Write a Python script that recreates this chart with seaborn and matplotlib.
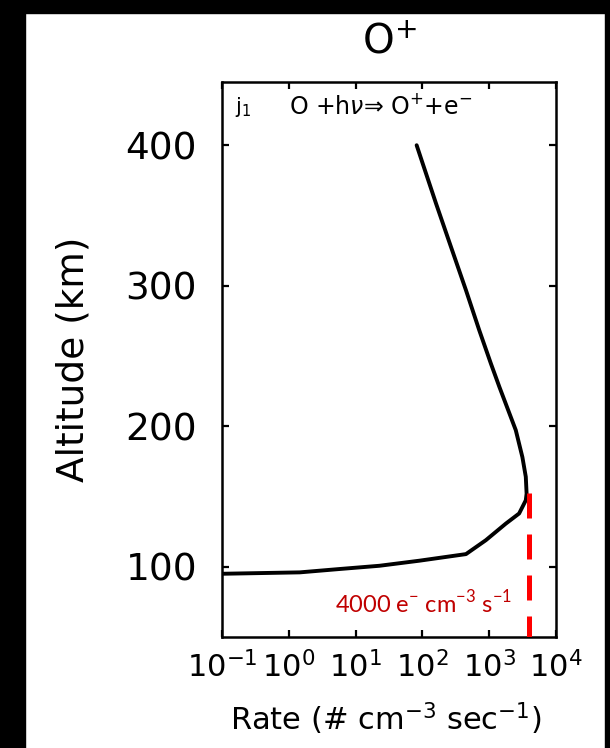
import matplotlib
matplotlib.use("Agg")
import matplotlib.pyplot as plt
from matplotlib.patches import Rectangle
from matplotlib.ticker import LogLocator, NullFormatter
import seaborn as sns
import pandas as pd

# O+ photoionisation rate profile (j1: O + hv -> O+ + e-)
rate = [0.1, 1.46, 5.8, 22.8, 90, 449, 891, 1774, 2805, 3530, 3630,
        3530, 3140, 2500, 1420, 1060, 710, 449, 268, 160, 101, 82]
altitude = [95, 96, 98.4, 100.7, 104.3, 109, 118.9, 130.7, 137.9, 147.3, 152,
            164, 178, 197.2, 228, 244.6, 268.3, 296.8, 327.6, 358.5, 387, 400]

# reference production level
ref_rate = 4000
ref_alt = [152.7, 50]

x_ticks = [0.1, 1, 10, 100, 1000, 10000]
x_tick_labels = ["10$^{-1}$", "10$^{0}$", "10$^{1}$", "10$^{2}$", "10$^{3}$", "10$^{4}$"]
y_ticks = [100, 200, 300, 400]

sns.set_style("white")
plt.rcParams["font.family"] = ["DejaVu Sans"]
plt.rcParams["text.color"] = "black"
plt.rcParams["axes.labelcolor"] = "black"
plt.rcParams["xtick.color"] = "black"
plt.rcParams["ytick.color"] = "black"

W, H = 610, 748
fig = plt.figure(figsize=(W / 100, H / 100), dpi=100)
ax = fig.add_axes([222 / W, 1 - 637 / H, (556 - 222) / W, (637 - 82) / H])

df = pd.DataFrame({"rate": rate, "altitude": altitude})
sns.lineplot(data=df, x="rate", y="altitude", sort=False, estimator=None,
             color="black", lw=2.8, ax=ax)

ax.plot([ref_rate, ref_rate], ref_alt, color="#ff0000", lw=3.6,
        dashes=(5, 3.2), solid_capstyle="butt", zorder=3)

ax.set_xscale("log")
ax.set_xlim(0.1, 10000)
ax.set_ylim(50, 445)
ax.set_xticks(x_ticks)
ax.set_xticklabels(x_tick_labels)
ax.xaxis.set_minor_locator(LogLocator(base=10, subs=range(2, 10)))
ax.xaxis.set_minor_formatter(NullFormatter())
ax.set_yticks(y_ticks)
ax.set_yticklabels([str(v) for v in y_ticks])

ax.tick_params(axis="x", which="major", direction="in", top=True, bottom=True,
               length=5, width=1.6, labelsize=22, pad=10)
ax.tick_params(axis="x", which="minor", direction="in", top=True, bottom=True,
               length=2.5, width=1.2)
ax.tick_params(axis="y", which="major", direction="in", left=True, right=True,
               length=5, width=1.6, labelsize=27, pad=18)
for s in ax.spines.values():
    s.set_color("black")
    s.set_linewidth(1.8)

ax.set_xlabel("Rate (# cm$^{-3}$ sec$^{-1}$)", fontsize=22)
ax.set_ylabel("Altitude (km)", fontsize=27)
ax.xaxis.set_label_coords(0.49, -0.115)
ax.yaxis.set_label_coords(-0.39, 0.5)

ax.text(0.04, 0.955, "j$_1$", transform=ax.transAxes, fontsize=15,
        ha="left", va="center")
ax.text(0.2, 0.955, "O +h$\\nu$\u21d2 O$^{+}$+e$^{-}$", transform=ax.transAxes,
        fontsize=17, ha="left", va="center")

plt.rcParams["mathtext.rm"] = "Lato"
ax.text(0.868, 0.061, "4000 e$^{-}$ cm$^{-3}$ s$^{-1}$", transform=ax.transAxes,
        fontsize=17, color="#c00000", ha="right", va="center",
        family=["Lato", "DejaVu Sans"], math_fontfamily="custom")

fig.text(389 / W, 1 - 43 / H, "O$^{+}$", fontsize=29, ha="center", va="center")

# dark frame around the panel
for (x0, y0, w, h) in [(0, 0, 25, H), (0, 0, W, 13), (605, 0, 5, H)]:
    fig.patches.append(Rectangle((x0 / W, 1 - (y0 + h) / H), w / W, h / H,
                                 transform=fig.transFigure, color="black",
                                 zorder=10))

fig.savefig("out.png", dpi=100)
